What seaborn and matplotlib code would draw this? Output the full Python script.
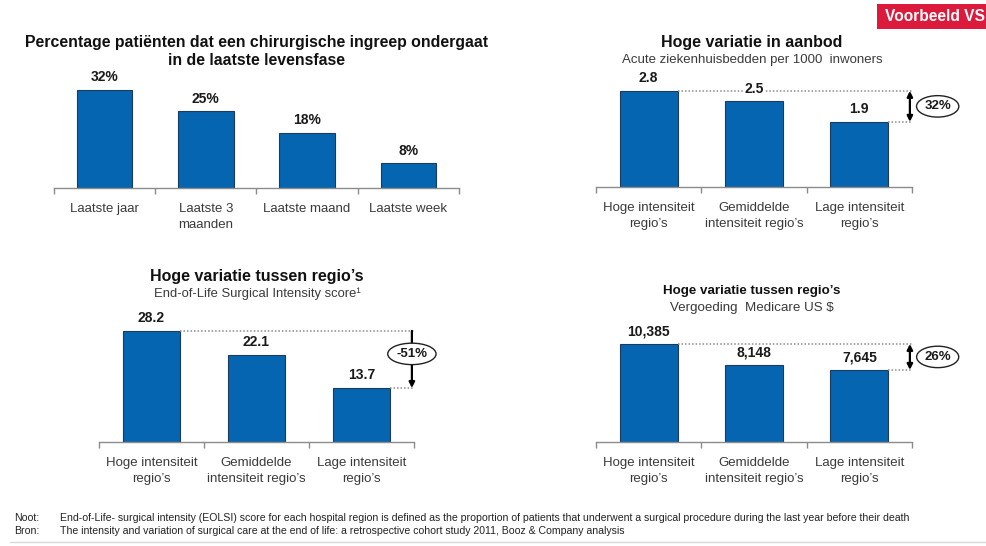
import matplotlib
matplotlib.use("Agg")
import matplotlib.pyplot as plt
from matplotlib.patches import Rectangle
from matplotlib.ticker import FixedLocator, NullLocator
import seaborn as sns

# ---- data ----
phases = ["Laatste jaar", "Laatste 3\nmaanden", "Laatste maand", "Laatste week"]
surgery_pct = [32, 25, 18, 8]

regions = ["Hoge intensiteit\nregio’s", "Gemiddelde\nintensiteit regio’s", "Lage intensiteit\nregio’s"]
beds_per_1000 = [2.8, 2.5, 1.9]
eolsi_score = [28.2, 22.1, 13.7]
medicare_usd = [10385, 8148, 7645]

sns.set_theme(style="white")
plt.rcParams["font.family"] = ["Liberation Sans", "DejaVu Sans"]

W, H = 987, 546
fig = plt.figure(figsize=(W / 100, H / 100), dpi=100)
fig.patch.set_facecolor("white")

BAR = "#0565B0"
EDGE = "#1B3A5C"
AXIS = "#8C8C8C"
DOT = "#8C8C8C"
TXT = "#3A3A3A"


def px_axes(x0, x1, top, base):
    return fig.add_axes([x0 / W, 1 - base / H, (x1 - x0) / W, (base - top) / H])


def bar_panel(ax, cats, vals, ymax, fmt):
    n = len(cats)
    sns.barplot(x=list(range(n)), y=vals, color=BAR, width=0.55, edgecolor=EDGE,
                linewidth=0.8, saturation=1, ax=ax)
    ax.set_xlim(-0.5, n - 0.5)
    ax.set_ylim(0, ymax)
    for s in ("top", "right", "left"):
        ax.spines[s].set_visible(False)
    ax.spines["bottom"].set_color(AXIS)
    ax.spines["bottom"].set_linewidth(1.0)
    ax.yaxis.set_major_locator(NullLocator())
    ax.set_ylabel("")
    ax.set_xlabel("")
    ax.xaxis.set_major_locator(FixedLocator(list(range(n))))
    ax.set_xticklabels(cats, fontsize=9.5, color=TXT, linespacing=1.4)
    ax.xaxis.set_minor_locator(FixedLocator([i - 0.5 for i in range(n + 1)]))
    ax.tick_params(axis="x", which="major", length=0, pad=11)
    ax.tick_params(axis="x", which="minor", bottom=True, length=4, width=1,
                   color=AXIS, direction="out")
    ax.patch.set_alpha(0)
    labels = []
    for i, v in enumerate(vals):
        t = ax.annotate(fmt(v), xy=(i, v), xytext=(0, 4), textcoords="offset points",
                        ha="center", va="bottom", fontsize=10, fontweight="bold",
                        color="#1a1a1a")
        labels.append(t)
    return labels


def gap_marker(ax, vals, width, text, double=True):
    n = len(vals)
    hi, lo = vals[0], vals[-1]
    xr = n - 0.5
    ax.plot([0 + width / 2, xr], [hi, hi], ls=(0, (1, 1.3)), color=DOT, lw=1.1, zorder=1)
    ax.plot([n - 1 + width / 2, xr], [lo, lo], ls=(0, (1, 1.3)), color=DOT, lw=1.1, zorder=1)
    xa = xr - 0.02
    style = "<|-|>" if double else "-|>"
    ax.annotate("", xy=(xa, lo), xytext=(xa, hi),
                arrowprops=dict(arrowstyle=style, color="black", lw=1.6,
                                shrinkA=0, shrinkB=0, mutation_scale=8),
                annotation_clip=False)
    mid = (hi + lo) / 2
    if double:
        ax.annotate(text, xy=(xa, mid), xytext=(20, 0), textcoords="offset points",
                    ha="center", va="center", fontsize=9.5, fontweight="bold",
                    color="#1a1a1a", annotation_clip=False,
                    bbox=dict(boxstyle="ellipse,pad=0.12", fc="white", ec="#222222", lw=1))
    else:
        ax.annotate(text, xy=(xa, mid), xytext=(0, 4), textcoords="offset points",
                    ha="center", va="center", fontsize=9.5, fontweight="bold",
                    color="#1a1a1a", annotation_clip=False, zorder=5,
                    bbox=dict(boxstyle="ellipse,pad=0.12", fc="white", ec="#222222", lw=1))


def drop(vals):
    return round((1 - vals[-1] / vals[0]) * 100)


# ---- top left: share of patients with surgery ----
ax1 = px_axes(54, 459, 70, 188)
bar_panel(ax1, phases, surgery_pct, 38.5, lambda v: f"{v}%")
fig.text(257 / W, 1 - 51.5 / H, "Percentage patiënten dat een chirurgische ingreep ondergaat\nin de laatste levensfase",
         ha="center", va="center", fontsize=11.4, fontweight="bold", color="#111111",
         linespacing=1.25)

# ---- top right: hospital beds ----
ax2 = px_axes(596, 912, 70, 187)
lab2 = bar_panel(ax2, regions, beds_per_1000, 3.41, lambda v: f"{v:.1f}")
lab2[1].set_bbox(dict(fc="white", ec="none", pad=0.5))
lab2[1].set_zorder(6)
gap_marker(ax2, beds_per_1000, 0.55, f"{drop(beds_per_1000)}%")
fig.text(752 / W, 1 - 42 / H, "Hoge variatie in aanbod", ha="center", va="center",
         fontsize=11.5, fontweight="bold", color="#111111")
fig.text(752 / W, 1 - 60 / H, "Acute ziekenhuisbedden per 1000  inwoners", ha="center",
         va="center", fontsize=9.5, color=TXT)

# ---- bottom left: EOLSI score ----
ax3 = px_axes(99, 414, 310, 442)
bar_panel(ax3, regions, eolsi_score, 33.5, lambda v: f"{v:.1f}")
gap_marker(ax3, eolsi_score, 0.55, f"-{drop(eolsi_score)}%", double=False)
fig.text(257 / W, 1 - 276 / H, "Hoge variatie tussen regio’s", ha="center", va="center",
         fontsize=11.5, fontweight="bold", color="#111111")
fig.text(257 / W, 1 - 294 / H, "End-of-Life Surgical Intensity score¹", ha="center",
         va="center", fontsize=9.4, color=TXT)

# ---- bottom right: Medicare spending ----
ax4 = px_axes(596, 912, 320, 442)
bar_panel(ax4, regions, medicare_usd, 12928, lambda v: f"{v:,}")
gap_marker(ax4, medicare_usd, 0.55, f"{drop(medicare_usd)}%")
fig.text(752 / W, 1 - 291 / H, "Hoge variatie tussen regio’s", ha="center", va="center",
         fontsize=9.6, fontweight="bold", color="#111111")
fig.text(752 / W, 1 - 308 / H, "Vergoeding  Medicare US $", ha="center", va="center",
         fontsize=9.6, color=TXT)

# ---- badge ----
fig.add_artist(Rectangle((877 / W, 1 - 29 / H), 110 / W, 25 / H, transform=fig.transFigure,
                         fc="#DC1A3C", ec="none"))
fig.text(985 / W, 1 - 16.5 / H, "Voorbeeld VS", ha="right", va="center", fontsize=11.2,
         fontweight="bold", color="white")

# ---- notes ----
foot = ["Liberation Sans Narrow", "Liberation Sans", "DejaVu Sans"]
fs_foot = 7.6
fig.text(14 / W, 1 - 518 / H, "Noot:", ha="left", va="center", fontsize=fs_foot, color="#222222", family=foot)
fig.text(60 / W, 1 - 518 / H,
         "End-of-Life- surgical intensity (EOLSI) score for each hospital region is defined as the proportion of patients that underwent a surgical procedure during the last year before their death",
         ha="left", va="center", fontsize=fs_foot, color="#222222", family=foot)
fig.text(14 / W, 1 - 531 / H, "Bron:", ha="left", va="center", fontsize=fs_foot, color="#222222", family=foot)
fig.text(60 / W, 1 - 531 / H,
         "The intensity and variation of surgical care at the end of life: a retrospective cohort study 2011, Booz & Company analysis",
         ha="left", va="center", fontsize=fs_foot, color="#222222", family=foot)
fig.add_artist(plt.Line2D([10 / W, 1], [1 - 542 / H, 1 - 542 / H], color="#D9D9D9", lw=1))

fig.savefig("out.png", dpi=100, facecolor="white")
